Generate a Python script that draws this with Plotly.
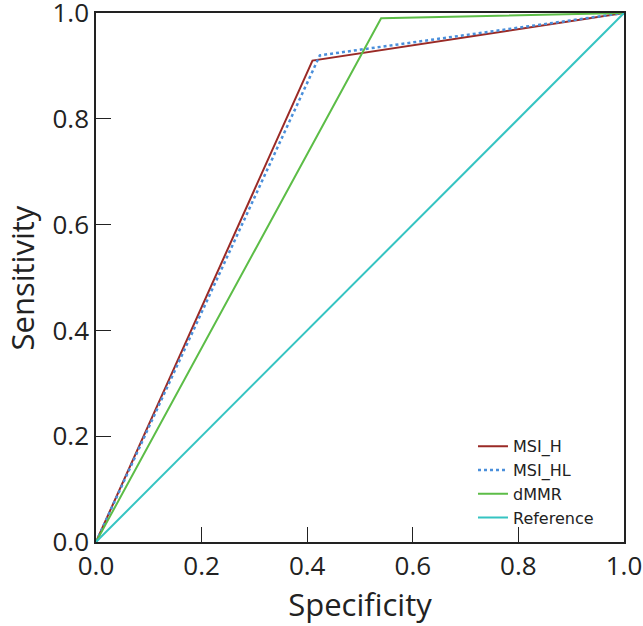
import plotly.graph_objects as go

msi_h_x = [0.0, 0.41, 1.0]
msi_h_y = [0.0, 0.91, 1.0]
msi_hl_x = [0.0, 0.424, 1.0]
msi_hl_y = [0.0, 0.92, 1.0]
dmmr_x = [0.0, 0.54, 1.0]
dmmr_y = [0.0, 0.99, 1.0]
ref_x = [0.0, 1.0]
ref_y = [0.0, 1.0]
tick_vals = [0.0, 0.2, 0.4, 0.6, 0.8, 1.0]
tick_text = ["0.0", "0.2", "0.4", "0.6", "0.8", "1.0"]

fig = go.Figure()
fig.add_trace(go.Scatter(x=msi_h_x, y=msi_h_y, mode="lines", name="MSI_H",
                         line=dict(color="#9a2a26", width=2)))
fig.add_trace(go.Scatter(x=msi_hl_x, y=msi_hl_y, mode="lines", name="MSI_HL",
                         line=dict(color="#4a8fdb", width=2.5, dash="dot")))
fig.add_trace(go.Scatter(x=dmmr_x, y=dmmr_y, mode="lines", name="dMMR",
                         line=dict(color="#5cbd47", width=2)))
fig.add_trace(go.Scatter(x=ref_x, y=ref_y, mode="lines", name="Reference",
                         line=dict(color="#35c4c2", width=2)))

axis_common = dict(range=[0, 1], tickvals=tick_vals, ticktext=tick_text,
                   ticks="inside", ticklen=15, tickwidth=1.3, tickcolor="#222",
                   showline=True, linecolor="#222", linewidth=1.5, mirror=True,
                   showgrid=False, zeroline=False, automargin=False,
                   ticklabeloverflow="allow",
                   tickfont=dict(family="Open Sans", size=26, color="#222"))

fig.update_layout(
    width=643, height=626,
    margin=dict(l=96, r=19, t=13, b=84),
    plot_bgcolor="white", paper_bgcolor="white",
    xaxis=dict(**axis_common, title=dict(text="Specificity", standoff=7,
               font=dict(family="Open Sans", size=31, color="#222"))),
    yaxis=dict(**axis_common),
    legend=dict(x=0.714, y=0.213, xanchor="left", yanchor="top",
                font=dict(family="DejaVu Sans", size=16, color="#222"),
                bgcolor="rgba(0,0,0,0)", tracegroupgap=0),
)
fig.add_annotation(text="Sensitivity", textangle=-90, xref="paper", yref="paper",
                   x=-0.1402, y=0.5, xanchor="center", yanchor="middle",
                   showarrow=False,
                   font=dict(family="Open Sans", size=31, color="#222"))
fig.write_html("out.html", config={"displayModeBar": False},
               post_script="document.body.style.margin='0px';")
